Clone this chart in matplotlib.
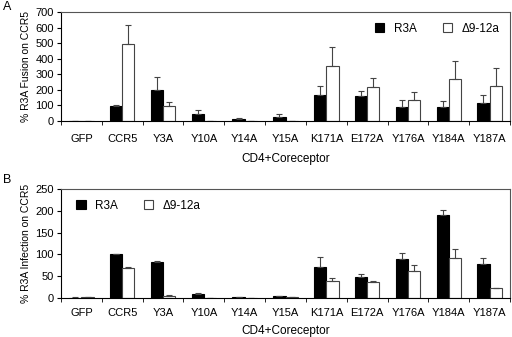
import numpy as np
import matplotlib
matplotlib.use('Agg')
from matplotlib import pyplot as plt

#### DATA
cats = ['GFP', 'CCR5', 'Y3A', 'Y10A', 'Y14A', 'Y15A', 'K171A', 'E172A', 'Y176A', 'Y184A', 'Y187A']

# panel A : fusion
fus_r3a = [1, 98, 202, 47, 15, 28, 168, 162, 88, 88, 116]
fus_r3a_err = [1, 3, 78, 25, 7, 17, 54, 32, 46, 39, 52]
fus_d = [0, 494, 94, 2, 0, 0, 356, 218, 134, 269, 226]
fus_d_err = [0, 124, 28, 0, 0, 0, 118, 58, 51, 115, 117]

# panel B : infection
inf_r3a = [1, 100, 82, 10, 1.5, 5, 70, 49, 90, 190, 77]
inf_r3a_err = [1, 0.5, 3, 1, 0.5, 0.5, 23, 7, 13, 12, 15]
inf_d = [2, 69, 5, 1, 1, 3, 38, 36, 62, 91, 23]
inf_d_err = [1, 3, 2, 0, 0, 0, 8, 4, 13, 22, 1]

#### FIGURE
plt.rcParams['font.family'] = 'Liberation Sans'
fig = plt.figure(figsize=[5.12, 3.37], dpi=100)
axA = fig.add_axes([61/512, 1-121/337, 449/512, 109/337])
axB = fig.add_axes([61/512, 1-298/337, 449/512, 109/337])

x = np.arange(len(cats))
w = 0.3

def panel(ax, a, ae, d, de, ymax, step, ylab, tpad, lpad):
    ax.bar(x - w/2, a, w, color='black', edgecolor='black', linewidth=0.8, label='R3A')
    ax.bar(x + w/2, d, w, color='white', edgecolor='#444444', linewidth=0.8, label='Δ9-12a')
    ax.errorbar(x - w/2, a, yerr=[np.zeros(len(a)), ae], fmt='none', ecolor='#444444', elinewidth=0.8, capsize=2.5, capthick=0.8)
    ax.errorbar(x + w/2, d, yerr=[np.zeros(len(d)), de], fmt='none', ecolor='#444444', elinewidth=0.8, capsize=2.5, capthick=0.8)
    ax.set_xlim(-0.5, len(cats) - 0.5)
    ax.set_ylim(0, ymax)
    ax.set_yticks(np.arange(0, ymax + 1, step))
    ax.set_xticks(x)
    ax.set_xticklabels(cats)
    ax.set_xticks(np.arange(-0.5, len(cats)), minor=True)
    ax.tick_params(axis='x', which='major', length=0, pad=tpad, labelsize=8)
    ax.tick_params(axis='x', which='minor', length=3, direction='out')
    ax.tick_params(axis='y', length=3, labelsize=8, pad=2)
    ax.set_ylabel(ylab, fontsize=7.5, labelpad=3)
    ax.set_xlabel('CD4+Coreceptor', fontsize=8.5, labelpad=lpad)
    for s in ['top', 'right']:
        ax.spines[s].set_color('#555555')
        ax.spines[s].set_linewidth(0.8)
    for s in ['left', 'bottom']:
        ax.spines[s].set_linewidth(0.8)

panel(axA, fus_r3a, fus_r3a_err, fus_d, fus_d_err, 700, 100, '% R3A Fusion on CCR5', 9, 7)
panel(axB, inf_r3a, inf_r3a_err, inf_d, inf_d_err, 250, 50, '% R3A Infection on CCR5', 7, 5)

axA.legend(loc='upper right', ncol=2, frameon=False, fontsize=8.5, handlelength=0.8, handleheight=0.8,
           columnspacing=2.2, handletextpad=0.8, bbox_to_anchor=(1.0, 1.0))
axB.legend(loc='upper left', ncol=2, frameon=False, fontsize=8.5, handlelength=0.8, handleheight=0.8,
           columnspacing=2.2, handletextpad=0.8, bbox_to_anchor=(0.01, 1.0))

fig.text(3/512, 1-10/337, 'A', fontsize=9)
fig.text(3/512, 1-183/337, 'B', fontsize=9)

plt.savefig('out.png', dpi=100)
